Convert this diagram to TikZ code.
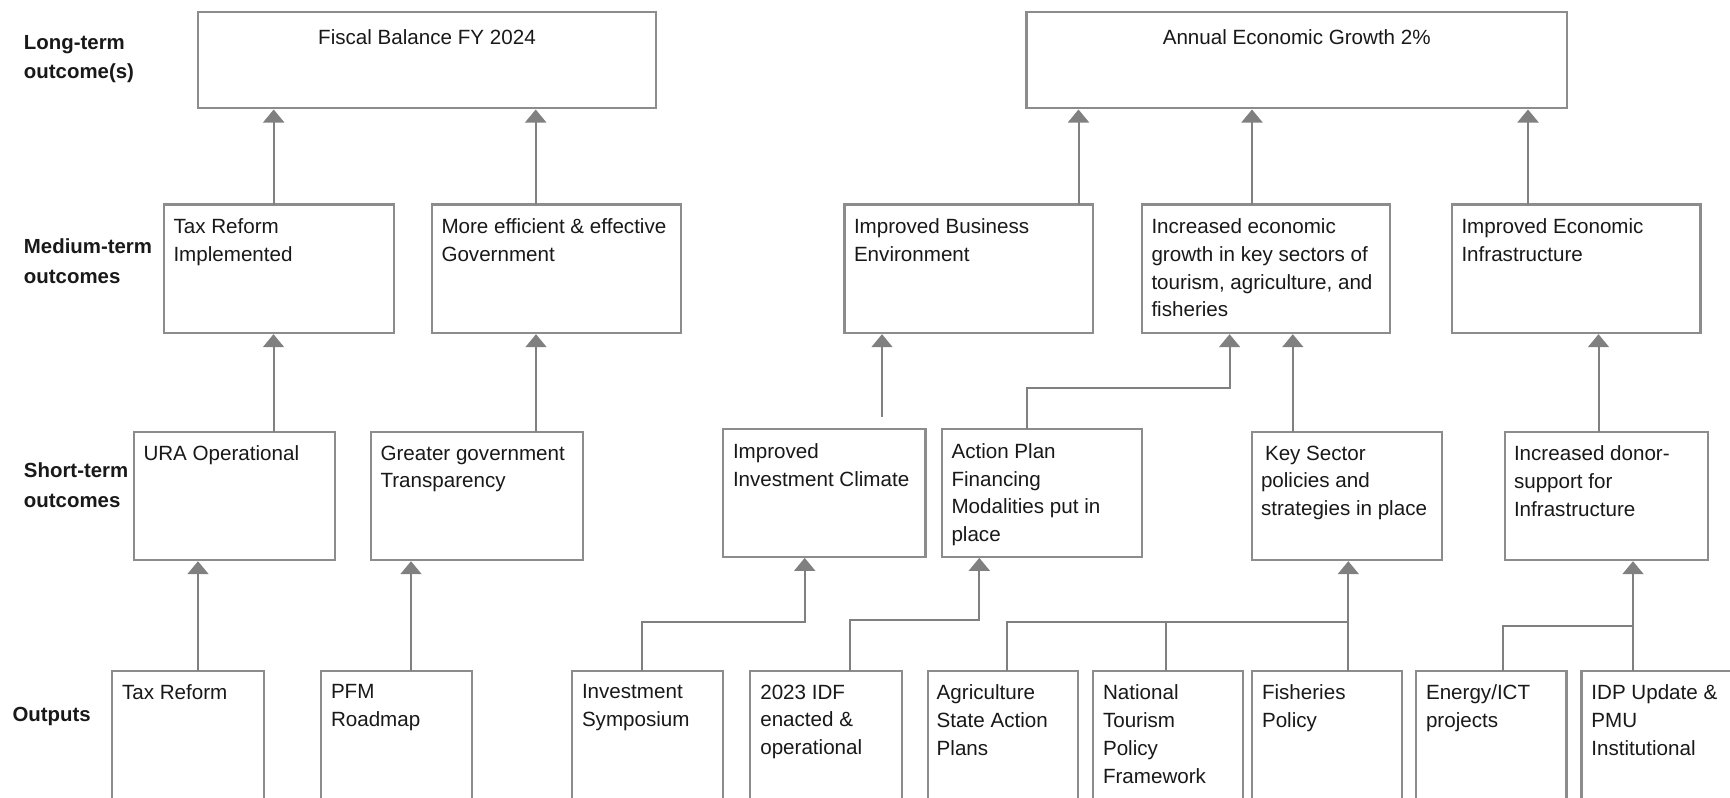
\documentclass[tikz,border=0pt]{standalone}
\usepackage{fontspec}
\setmainfont{Liberation Sans}
\usetikzlibrary{arrows.meta,calc,fit}
\definecolor{boxcol}{RGB}{140,140,140}
\definecolor{linecol}{RGB}{128,128,128}
\definecolor{textcol}{RGB}{25,25,25}
\begin{document}
\begin{tikzpicture}[x=0.5pt,y=-0.5pt,
  box/.style={draw=boxcol, line width=1.1pt, inner sep=0pt, outer sep=0pt, rectangle},
  txt/.style={anchor=north west, inner sep=0pt, outer sep=0pt, align=left, text=textcol, font=\fontsize{10.3}{13.9}\selectfont},
  ttl/.style={txt, anchor=north, align=center},
  lbl/.style={anchor=north west, inner sep=0pt, outer sep=0pt, align=left, text=textcol, font=\fontsize{10.2}{14.8}\selectfont\bfseries},
  conn/.style={draw=linecol, line width=1pt},
  arr/.style={conn, -{Triangle[width=10.5pt,length=6.5pt]}, shorten >=0.6pt}
]
\clip (0,0) rectangle (1730,798);
\fill[white] (0,0) rectangle (1730,798);

% row labels
\node[lbl] (L1) at (24,35) {Long-term\\outcome(s)};
\node[lbl] (L2) at (24,239) {Medium-term\\outcomes};
\node[lbl] (L3) at (24,463) {Short-term\\outcomes};
\node[lbl] (L4) at (12.5,707) {Outputs};

% long-term
\node[box, fit={(198,11.7)(656,108.3)}] (LT1) {};
\node[box, fit={(1026.5,11.7)(1567,108.3)}] (LT2) {};
\node[ttl] (LT1t) at ($(LT1.north)+(0,18)$) {Fiscal Balance FY 2024};
\node[ttl] (LT2t) at ($(LT2.north)+(0,18)$) {Annual Economic Growth 2\%};

% medium-term
\node[box, fit={(164,204.5)(394,333)}] (M1) {};
\node[box, fit={(432,204.5)(681,333)}] (M2) {};
\node[box, fit={(844.5,204.5)(1093,333)}] (M3) {};
\node[box, fit={(1142,204.5)(1390,333)}] (M4) {};
\node[box, fit={(1452,204.5)(1700.5,333)}] (M5) {};
\node[txt] (M1t) at ($(M1.north west)+(9.5,14)$) {Tax Reform\\Implemented};
\node[txt] (M2t) at ($(M2.north west)+(9.5,14)$) {More efficient \& effective\\Government};
\node[txt] (M3t) at ($(M3.north west)+(9.5,14)$) {Improved Business\\Environment};
\node[txt] (M4t) at ($(M4.north west)+(9.5,14)$) {Increased economic\\growth in key sectors of\\tourism, agriculture, and\\fisheries};
\node[txt] (M5t) at ($(M5.north west)+(9.5,14)$) {Improved Economic\\Infrastructure};

% short-term
\node[box, fit={(134,431.7)(335,560)}] (S1) {};
\node[box, fit={(371,431.7)(583,560)}] (S2) {};
\node[box, fit={(723,429.3)(925.5,556.7)}] (S3) {};
\node[box, fit={(942,429.3)(1142,556.7)}] (S4) {};
\node[box, fit={(1252,431.7)(1441.6,560)}] (S5) {};
\node[box, fit={(1505,431.7)(1708,560)}] (S6) {};
\node[txt] (S1t) at ($(S1.north west)+(9.5,14)$) {URA Operational};
\node[txt] (S2t) at ($(S2.north west)+(9.5,14)$) {Greater government\\Transparency};
\node[txt] (S3t) at ($(S3.north west)+(10,14)$) {Improved\\Investment Climate};
\node[txt] (S4t) at ($(S4.north west)+(9.5,14)$) {Action Plan\\Financing\\Modalities put in\\place};
\node[txt] (S5t) at ($(S5.north west)+(9,14)$) {\hspace*{2pt}Key Sector\\policies and\\strategies in place};
\node[txt] (S6t) at ($(S6.north west)+(9,14)$) {Increased donor-\\support for\\Infrastructure};

% outputs
\node[box, fit={(112,670.7)(263.6,820)}] (O1) {};
\node[box, fit={(321,670.7)(471.7,820)}] (O2) {};
\node[box, fit={(572,670.7)(723,820)}] (O3) {};
\node[box, fit={(750.3,670.7)(901.6,820)}] (O4) {};
\node[box, fit={(927.7,670.7)(1078,820)}] (O5) {};
\node[box, fit={(1093,670.7)(1243,820)}] (O6) {};
\node[box, fit={(1252,670.7)(1402.2,820)}] (O7) {};
\node[box, fit={(1416,670.7)(1566.4,820)}] (O8) {};
\node[box, fit={(1581.4,670.7)(1760,820)}] (O9) {};
\node[txt] (O1t) at ($(O1.north west)+(10,14)$) {Tax Reform};
\node[txt] (O2t) at ($(O2.north west)+(10,14)$) {PFM\\Roadmap};
\node[txt] (O3t) at ($(O3.north west)+(10,14)$) {Investment\\Symposium};
\node[txt] (O4t) at ($(O4.north west)+(10,14)$) {2023 IDF\\enacted \&\\operational};
\node[txt] (O5t) at ($(O5.north west)+(9,14)$) {Agriculture\\State Action\\Plans};
\node[txt] (O6t) at ($(O6.north west)+(10,14)$) {National\\Tourism\\Policy\\Framework};
\node[txt] (O7t) at ($(O7.north west)+(10,14)$) {Fisheries\\Policy};
\node[txt] (O8t) at ($(O8.north west)+(10,14)$) {Energy/ICT\\projects};
\node[txt] (O9t) at ($(O9.north west)+(10,14)$) {IDP Update \&\\PMU\\Institutional};

% medium -> long
\draw[arr] ($(M1.north west)+(109.7,0)$) coordinate (a1) -- (a1 |- LT1.south);
\draw[arr] ($(M2.north west)+(103.7,0)$) coordinate (a2) -- (a2 |- LT1.south);
\draw[arr] ($(M3.north west)+(234,0)$) coordinate (a3) -- (a3 |- LT2.south);
\draw[arr] ($(M4.north west)+(110,0)$) coordinate (a4) -- (a4 |- LT2.south);
\draw[arr] ($(M5.north west)+(76,0)$) coordinate (a5) -- (a5 |- LT2.south);

% short -> medium
\draw[arr] ($(S1.north west)+(139.5,0)$) coordinate (b1) -- (b1 |- M1.south);
\draw[arr] ($(S2.north west)+(165,0)$) coordinate (b2) -- (b2 |- M2.south);
\draw[arr] ($(S3.north west)+(159,-12.6)$) coordinate (b3) -- (b3 |- M3.south);
\draw[arr] ($(S4.north west)+(84.7,0)$) -- ++(0,-41.6) -| ($(M4.south west)+(87.6,0)$);
\draw[arr] ($(S5.north west)+(40.8,0)$) coordinate (b5) -- (b5 |- M4.south);
\draw[arr] ($(S6.north west)+(93.5,0)$) coordinate (b6) -- (b6 |- M5.south);

% outputs -> short
\draw[arr] ($(O1.north west)+(86,0)$) coordinate (c1) -- (c1 |- S1.south);
\draw[arr] ($(O2.north west)+(90,0)$) coordinate (c2) -- (c2 |- S2.south);
\draw[arr] ($(O3.north west)+(69.5,0)$) -- ++(0,-49) -| ($(S3.south west)+(81.7,0)$);
\draw[arr] ($(O4.north west)+(99.3,0)$) -- ++(0,-50.7) -| ($(S4.south west)+(37.3,0)$);
\draw[arr] ($(O7.north west)+(96.3,0)$) coordinate (c7) -- (c7 |- S5.south);
\draw[conn] ($(O5.north west)+(79.3,0)$) |- ($(O7.north west)+(96.3,-49)$);
\draw[conn] ($(O6.north west)+(73.3,0)$) -- ++(0,-49);
\draw[arr] ($(O9.north west)+(51.6,0)$) coordinate (c9) -- (c9 |- S6.south);
\draw[conn] ($(O8.north west)+(86.6,0)$) |- ($(O9.north west)+(51.6,-45)$);
\end{tikzpicture}
\end{document}
